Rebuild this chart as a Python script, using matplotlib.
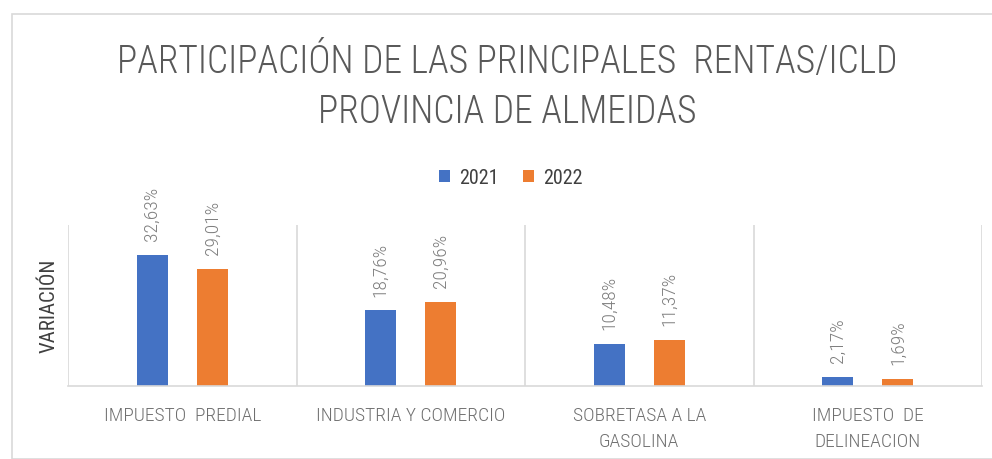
import numpy as np
import matplotlib.pyplot as plt
from matplotlib.patches import Rectangle
from matplotlib import font_manager

names = {f.name for f in font_manager.fontManager.ttflist}
fuente = 'DejaVu Sans'
for f in ['Roboto Condensed', 'Liberation Sans Narrow', 'Roboto']:
    if f in names:
        fuente = f
        break

categorias = ['IMPUESTO  PREDIAL', 'INDUSTRIA Y COMERCIO', 'SOBRETASA A LA\nGASOLINA', 'IMPUESTO  DE\nDELINEACION']
v2021 = [32.63, 18.76, 10.48, 2.17]
v2022 = [29.01, 20.96, 11.37, 1.69]
lab2021 = ['32,63%', '18,76%', '10,48%', '2,17%']
lab2022 = ['29,01%', '20,96%', '11,37%', '1,69%']

azul = '#4472c4'
naranja = '#ed7d31'
gris = '#d9d9d9'

fig = plt.figure(figsize=(9.92, 4.59), dpi=100)
fig.patches.append(Rectangle((12/992, 0), 1, 1 - 14/459, transform=fig.transFigure,
                             fill=False, edgecolor=gris, lw=1.2))
ax = fig.add_axes([68/992, 1 - 386/459, (982 - 68)/992, (386 - 225)/459])

x = np.arange(len(categorias))
w = 0.136
off = 0.132
b1 = ax.bar(x - off, v2021, w, color=azul, label='2021')
b2 = ax.bar(x + off, v2022, w, color=naranja, label='2022')

for rects, labs in [(b1, lab2021), (b2, lab2022)]:
    for r, t in zip(rects, labs):
        ax.annotate(t, (r.get_x() + r.get_width()/2, r.get_height()), xytext=(0, 10),
                    textcoords='offset points', rotation=90, ha='center', va='bottom',
                    fontsize=14, color='#7f7f7f', family=fuente, fontweight='light')

ax.set_xlim(-0.5, 3.5)
ax.set_ylim(0, 40)
ax.set_yticks([])
ax.set_xticks(x)
ax.set_xticklabels(categorias, fontsize=14, color='#6f6f6f', linespacing=1.6,
                   family=fuente, fontweight='light')
ax.set_xticks(np.arange(-0.5, 3.6, 1), minor=True)
ax.tick_params(axis='x', which='both', length=0, pad=15)
ax.grid(which='minor', axis='x', color=gris, lw=1.2)
for s in ['top', 'right', 'left']:
    ax.spines[s].set_visible(False)
ax.spines['bottom'].set_color(gris)
ax.spines['bottom'].set_linewidth(1.2)
ax.set_ylabel('VARIACIÓN', fontsize=15, color='#404040', family=fuente, fontweight='normal',
              labelpad=7)

titulo = dict(ha='center', va='center', fontsize=27, color='#595959', family=fuente,
              fontweight='light')
fig.text(507/992, 1 - 62/459, 'PARTICIPACIÓN DE LAS PRINCIPALES  RENTAS/ICLD', **titulo)
fig.text(507/992, 1 - 112/459, 'PROVINCIA DE ALMEIDAS', **titulo)

fig.legend(handles=[b1, b2], loc='center', bbox_to_anchor=(511/992, 1 - 178/459), ncol=2,
           frameon=False, prop={'family': fuente, 'size': 14.5}, labelcolor='#404040',
           handlelength=0.55, handleheight=0.55, columnspacing=1.2, handletextpad=0.45)

fig.savefig('out.png', dpi=100)
